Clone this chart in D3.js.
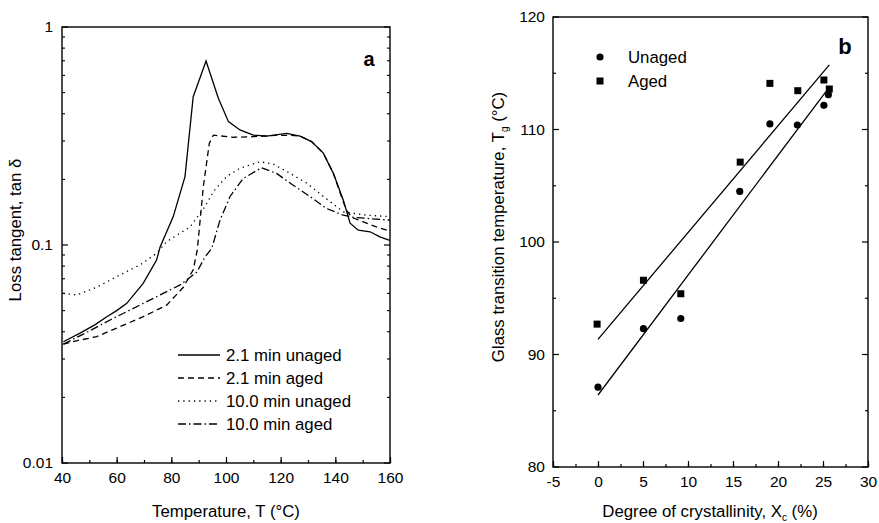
<!DOCTYPE html>
<html>
<head>
<meta charset="utf-8">
<script src="https://cdn.jsdelivr.net/npm/d3@7"></script>
<style>
  body { margin: 0; background: #fff; }
  svg { font-family: "Liberation Sans", Arial, sans-serif; }
  .frame { fill: none; stroke: #000; stroke-width: 1.4; }
  .tick line { stroke: #000; stroke-width: 1.2; }
  .curve { fill: none; stroke: #000; stroke-width: 1.3; }
</style>
</head>
<body>
<div id="chart"></div>
<script>
// Panel a: loss tangent vs temperature, [T (°C), tan δ]
const unaged21 = [
  [40.5, 0.036], [46.6, 0.0394], [52, 0.043], [56.4, 0.0469], [60, 0.050], [63.7, 0.054],
  [69.7, 0.0667], [74.6, 0.0853], [75.9, 0.098], [80.7, 0.135], [85, 0.206],
  [88, 0.479], [92.7, 0.698], [97.2, 0.471], [100.9, 0.368], [105.1, 0.337],
  [110, 0.319], [114.9, 0.316], [122.2, 0.325], [127.1, 0.316], [131.3, 0.298],
  [135.6, 0.264], [139.3, 0.213], [142.9, 0.161], [145.4, 0.126], [148.4, 0.117],
  [152.7, 0.115], [156.3, 0.109], [159.9, 0.105]
];
const aged21 = [
  [40.5, 0.0351], [46, 0.0365], [52.7, 0.038], [61.2, 0.0422], [69.7, 0.0469],
  [78.3, 0.053], [84.4, 0.064], [88, 0.077], [89.5, 0.095], [91.7, 0.185],
  [93.9, 0.293], [95.4, 0.319], [102.7, 0.312], [110, 0.314], [118, 0.318],
  [124, 0.318], [127.1, 0.316], [131.3, 0.298], [135.6, 0.264], [139.3, 0.213],
  [142, 0.17], [144, 0.145], [146, 0.134], [150, 0.128], [155, 0.121], [159.9, 0.116]
];
const unaged100 = [
  [40.5, 0.060], [45.4, 0.059], [52.7, 0.064], [60, 0.0716], [68.5, 0.081],
  [74.6, 0.0916], [78.3, 0.1036], [86.8, 0.121], [92.3, 0.150], [95.4, 0.176],
  [100.2, 0.206], [105.1, 0.225], [112.4, 0.241], [117.3, 0.235], [123.5, 0.213],
  [129.6, 0.192], [135.6, 0.167], [142.9, 0.142], [151.5, 0.137], [159.9, 0.135]
];
const aged100 = [
  [40.5, 0.0351], [47.8, 0.039], [57.6, 0.0453], [68.5, 0.053], [75.9, 0.059],
  [83.2, 0.0656], [89.3, 0.075], [92.3, 0.088], [94.8, 0.0966], [97.8, 0.130],
  [101.5, 0.167], [106.3, 0.202], [113, 0.226], [118.5, 0.213], [124.6, 0.188],
  [130.7, 0.167], [136.8, 0.147], [142.9, 0.137], [146.5, 0.134], [159.9, 0.130]
];
const seriesA = [
  { name: "2.1 min unaged", data: unaged21, dash: null },
  { name: "2.1 min aged", data: aged21, dash: "6,4" },
  { name: "10.0 min unaged", data: unaged100, dash: "1.3,4" },
  { name: "10.0 min aged", data: aged100, dash: "8,3,1.5,3" }
];
const tempTicks = [40, 60, 80, 100, 120, 140, 160];
const tanTicks = [0.01, 0.1, 1];

// Panel b: glass transition temperature vs crystallinity, [Xc (%), Tg (°C)]
const unagedTg = [
  [0, 87.1], [5.05, 92.3], [9.2, 93.2], [15.75, 104.5], [19.1, 110.5],
  [22.15, 110.4], [25.1, 112.15], [25.6, 113.1]
];
const agedTg = [
  [-0.1, 92.7], [5.05, 96.6], [9.2, 95.4], [15.8, 107.1], [19.1, 114.1],
  [22.2, 113.45], [25.1, 114.4], [25.7, 113.6]
];
// linear fits: [x start, x end, intercept, slope]
const unagedFit = [0, 25.6, 86.4, 1.065];
const agedFit = [0, 25.7, 91.35, 0.949];
const xcTicks = [-5, 0, 5, 10, 15, 20, 25, 30];
const tgTicks = [80, 90, 100, 110, 120];

const width = 879, height = 523;
const svg = d3.select("#chart").append("svg")
  .attr("width", width).attr("height", height);

const plainNum = d => String(d); // keep ASCII hyphen for negatives, like the original

// ---------- panel a ----------
const ax = d3.scaleLinear().domain([40, 160]).range([62, 390]);
const ay = d3.scaleLog().domain([0.01, 1]).range([463, 27]);

const ga = svg.append("g");

// minor + major ticks, inward
ga.append("g").attr("class", "tick")
  .attr("transform", "translate(0,463)")
  .call(d3.axisBottom(ax).tickValues(d3.range(40, 161, 10)).tickSize(-3).tickFormat(""))
  .call(g => g.select(".domain").remove());
ga.append("g").attr("class", "tick")
  .attr("transform", "translate(0,463)")
  .call(d3.axisBottom(ax).tickValues(tempTicks).tickSize(-6).tickPadding(9).tickFormat(plainNum))
  .call(g => g.select(".domain").remove())
  .call(g => g.selectAll("text").attr("font-size", 15.5).attr("fill", "#000").attr("font-family", null));

const logMinor = [];
[0.01, 0.1].forEach(b => { for (let i = 2; i <= 9; i++) logMinor.push(b * i); });
[[62, 1], [390, -1]].forEach(([x0, dir]) => {
  ga.selectAll(null).data(logMinor).enter().append("line")
    .attr("x1", x0).attr("x2", x0 + dir * 3)
    .attr("y1", d => ay(d)).attr("y2", d => ay(d))
    .attr("stroke", "#000").attr("stroke-width", 1.1);
  ga.selectAll(null).data(tanTicks).enter().append("line")
    .attr("x1", x0).attr("x2", x0 + dir * 6)
    .attr("y1", d => ay(d)).attr("y2", d => ay(d))
    .attr("stroke", "#000").attr("stroke-width", 1.2);
});
ga.selectAll(null).data(tanTicks).enter().append("text")
  .attr("x", 53).attr("y", d => ay(d)).attr("dy", "0.35em")
  .attr("text-anchor", "end").attr("font-size", 15.5)
  .text(d => d);

ga.append("rect").attr("class", "frame")
  .attr("x", 62).attr("y", 27).attr("width", 328).attr("height", 436);

const line = d3.line().x(d => ax(d[0])).y(d => ay(d[1]));
ga.selectAll(".curve").data(seriesA).enter().append("path")
  .attr("class", "curve")
  .attr("stroke-dasharray", d => d.dash)
  .attr("d", d => line(d.data));

// legend a
const legA = ga.selectAll(".lega").data(seriesA).enter().append("g")
  .attr("transform", (d, i) => `translate(178,${355 + i * 23})`);
legA.append("line").attr("x1", 0).attr("x2", 42)
  .attr("stroke", "#000").attr("stroke-width", 1.3)
  .attr("stroke-dasharray", d => d.dash);
legA.append("text").attr("x", 48).attr("dy", "0.35em")
  .attr("font-size", 16.8).text(d => d.name);

ga.append("text").attr("x", 369).attr("y", 66).attr("text-anchor", "middle")
  .attr("font-size", 20).attr("font-weight", "bold").text("a");

ga.append("text").attr("x", 226).attr("y", 517).attr("text-anchor", "middle")
  .attr("font-size", 16.8).text("Temperature, T (°C)");
ga.append("text").attr("transform", "translate(21,230) rotate(-90)")
  .attr("text-anchor", "middle").attr("font-size", 16.8)
  .text("Loss tangent, tan δ");

// ---------- panel b ----------
const bx = d3.scaleLinear().domain([-5, 30]).range([553, 868]);
const by = d3.scaleLinear().domain([80, 120]).range([467, 17]);

const gb = svg.append("g");
gb.append("g").attr("class", "tick")
  .attr("transform", "translate(0,467)")
  .call(d3.axisBottom(bx).tickValues(d3.range(-5, 30.1, 2.5)).tickSize(-3).tickFormat(""))
  .call(g => g.select(".domain").remove());
gb.append("g").attr("class", "tick")
  .attr("transform", "translate(0,467)")
  .call(d3.axisBottom(bx).tickValues(xcTicks).tickSize(-6).tickPadding(9).tickFormat(plainNum))
  .call(g => g.select(".domain").remove())
  .call(g => g.selectAll("text").attr("font-size", 15.5).attr("fill", "#000").attr("font-family", null));

[[553, 1], [868, -1]].forEach(([x0, dir]) => {
  gb.selectAll(null).data(d3.range(80, 120.1, 5)).enter().append("line")
    .attr("x1", x0).attr("x2", d => x0 + dir * (d % 10 === 0 ? 6 : 3))
    .attr("y1", d => by(d)).attr("y2", d => by(d))
    .attr("stroke", "#000").attr("stroke-width", 1.2);
});
gb.selectAll(null).data(tgTicks).enter().append("text")
  .attr("x", 545).attr("y", d => by(d)).attr("dy", "0.35em")
  .attr("text-anchor", "end").attr("font-size", 15.5)
  .text(d => d);

gb.append("rect").attr("class", "frame")
  .attr("x", 553).attr("y", 17).attr("width", 315).attr("height", 450);

[unagedFit, agedFit].forEach(f => {
  gb.append("line")
    .attr("x1", bx(f[0])).attr("y1", by(f[2] + f[3] * f[0]))
    .attr("x2", bx(f[1])).attr("y2", by(f[2] + f[3] * f[1]))
    .attr("stroke", "#000").attr("stroke-width", 1.3);
});

gb.selectAll(".dot").data(unagedTg).enter().append("circle")
  .attr("cx", d => bx(d[0])).attr("cy", d => by(d[1])).attr("r", 3.6);
gb.selectAll(".sq").data(agedTg).enter().append("rect")
  .attr("x", d => bx(d[0]) - 3.5).attr("y", d => by(d[1]) - 3.5)
  .attr("width", 7).attr("height", 7);

// legend b
gb.append("circle").attr("cx", 600).attr("cy", 57).attr("r", 3.6);
gb.append("text").attr("x", 628).attr("y", 57).attr("dy", "0.35em")
  .attr("font-size", 16.8).text("Unaged");
gb.append("rect").attr("x", 596.5).attr("y", 77.5).attr("width", 7).attr("height", 7);
gb.append("text").attr("x", 628).attr("y", 81).attr("dy", "0.35em")
  .attr("font-size", 16.8).text("Aged");

gb.append("text").attr("x", 845).attr("y", 54).attr("text-anchor", "middle")
  .attr("font-size", 22).attr("font-weight", "bold").text("b");

const xt = gb.append("text").attr("x", 710).attr("y", 517).attr("text-anchor", "middle")
  .attr("font-size", 16.8);
xt.append("tspan").text("Degree of crystallinity, X");
xt.append("tspan").attr("font-size", 10).attr("dy", 4).text("c");
xt.append("tspan").attr("dy", -4).text(" (%)");

const yt = gb.append("text").attr("transform", "translate(504,227) rotate(-90)")
  .attr("text-anchor", "middle").attr("font-size", 16.8);
yt.append("tspan").text("Glass transition temperature, T");
yt.append("tspan").attr("font-size", 10).attr("dy", 4).text("g");
yt.append("tspan").attr("dy", -4).text(" (°C)");
</script>
</body>
</html>
